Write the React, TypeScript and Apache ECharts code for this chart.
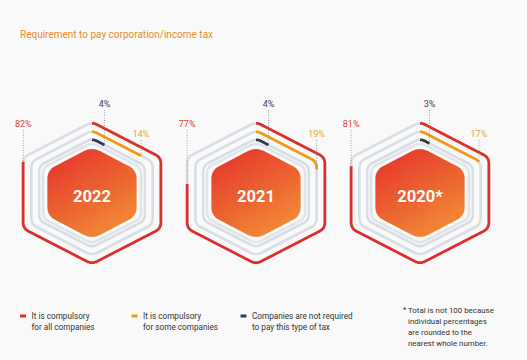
import React, { useEffect, useRef } from "react";
import * as echarts from "echarts";

const TITLE = "Requirement to pay corporation/income tax";
const YEARS = ["2022", "2021", "2020*"];
const ALL_COMPANIES = [82, 77, 81];
const SOME_COMPANIES = [14, 19, 17];
const NOT_REQUIRED = [4, 4, 3];
const SERIES_NAMES = [
  "It is compulsory\nfor all companies",
  "It is compulsory\nfor some companies",
  "Companies are not required\nto pay this type of tax",
];
const FOOTNOTE = ["Total is not 100 because", "individual percentages", "are rounded to the", "nearest whole number."];

// styles / geometry
const COLORS = ["#d8312b", "#f09a1c", "#2f3b4b"];
const LABEL_COLORS = ["#d9413a", "#f0a236", "#3b4350"];
const TRACK = "#d9dee4";
const RING_R = [71, 62.5, 54.5];
const LABEL_DY = [-69, -59, -89];
const INNER_R = 50.5;
const FILL_R = 46;
const K = 0.97;
const FONT = "Roboto, 'Noto Sans', sans-serif";

type P = [number, number];

function hexVerts(cx: number, cy: number, r: number): P[] {
  const rx = r * K;
  return [
    [cx, cy - r],
    [cx + rx, cy - r / 2],
    [cx + rx, cy + r / 2],
    [cx, cy + r],
    [cx - rx, cy + r / 2],
    [cx - rx, cy - r / 2],
  ];
}

function roundedLoop(verts: P[], c: number, steps = 8): P[] {
  const n = verts.length;
  const corner = (i: number): P[] => {
    const V = verts[i];
    const Pv = verts[(i - 1 + n) % n];
    const N = verts[(i + 1) % n];
    const d1 = Math.hypot(Pv[0] - V[0], Pv[1] - V[1]);
    const d2 = Math.hypot(N[0] - V[0], N[1] - V[1]);
    const A: P = [V[0] + ((Pv[0] - V[0]) * c) / d1, V[1] + ((Pv[1] - V[1]) * c) / d1];
    const B: P = [V[0] + ((N[0] - V[0]) * c) / d2, V[1] + ((N[1] - V[1]) * c) / d2];
    const pts: P[] = [];
    for (let s = 0; s <= steps; s++) {
      const t = s / steps;
      const a = (1 - t) * (1 - t), b = 2 * (1 - t) * t, d = t * t;
      pts.push([a * A[0] + b * V[0] + d * B[0], a * A[1] + b * V[1] + d * B[1]]);
    }
    return pts;
  };
  const out: P[] = [];
  const c0 = corner(0);
  out.push(...c0.slice(steps / 2));
  for (let i = 1; i < n; i++) out.push(...corner(i));
  out.push(...c0.slice(0, steps / 2 + 1));
  return out;
}

function slicePath(pts: P[], f0: number, f1: number): P[] {
  const cum = [0];
  for (let i = 1; i < pts.length; i++) {
    cum.push(cum[i - 1] + Math.hypot(pts[i][0] - pts[i - 1][0], pts[i][1] - pts[i - 1][1]));
  }
  const L = cum[cum.length - 1];
  const a = f0 * L, b = f1 * L;
  const at = (d: number): P => {
    for (let i = 1; i < pts.length; i++) {
      if (cum[i] >= d) {
        const seg = cum[i] - cum[i - 1] || 1;
        const t = (d - cum[i - 1]) / seg;
        return [pts[i - 1][0] + (pts[i][0] - pts[i - 1][0]) * t, pts[i - 1][1] + (pts[i][1] - pts[i - 1][1]) * t];
      }
    }
    return pts[pts.length - 1];
  };
  const out: P[] = [at(a)];
  for (let i = 0; i < pts.length; i++) if (cum[i] > a && cum[i] < b) out.push(pts[i]);
  out.push(at(b));
  return out;
}

const VALUES = [ALL_COMPANIES, SOME_COMPANIES, NOT_REQUIRED];

export default function App() {
  const ref = useRef<HTMLDivElement>(null);
  useEffect(() => {
    document.body.style.margin = "0";
    document.body.style.background = "#f9f9f9";
    const chart = echarts.init(ref.current!, null, { renderer: "svg" });

    const ringSeries = VALUES.map((vals, k) => ({
      type: "custom",
      name: SERIES_NAMES[k],
      data: vals.map((v, i) => [i, v]),
      renderItem: (params: any, api: any) => {
        const yi = api.value(0);
        const v = api.value(1);
        const [cx, cy] = api.coord([yi, 0]);
        const loop = roundedLoop(hexVerts(cx, cy, RING_R[k]), 6);
        const f = v / 100;
        const colored = slicePath(loop, 0, f);
        const track = slicePath(loop, f, 1);
        const end = colored[colored.length - 1];
        const ly = cy + LABEL_DY[k];
        return {
          type: "group",
          children: [
            { type: "polyline", shape: { points: track }, style: { stroke: TRACK, lineWidth: 2.6, fill: null, lineJoin: "round" } },
            { type: "polyline", shape: { points: colored }, style: { stroke: COLORS[k], lineWidth: 2.8, fill: null, lineJoin: "round" } },
            {
              type: "line",
              shape: { x1: end[0], y1: ly + 6, x2: end[0], y2: end[1] },
              style: { stroke: "#8a8f96", lineWidth: 0.8, lineDash: [1, 1.5] },
            },
            {
              type: "text",
              x: end[0],
              y: ly,
              style: { text: v + "%", fill: LABEL_COLORS[k], fontSize: 9, fontFamily: FONT, align: "center", verticalAlign: "middle" },
            },
          ],
        };
      },
    }));

    const centerSeries = {
      type: "custom",
      name: "year",
      data: YEARS.map((y, i) => ({ value: [i, 0], name: y })),
      renderItem: (params: any, api: any) => {
        const [cx, cy] = api.coord([api.value(0), 0]);
        const inner = roundedLoop(hexVerts(cx, cy, INNER_R), 6);
        const fill = roundedLoop(hexVerts(cx, cy, FILL_R), 9);
        return {
          type: "group",
          children: [
            { type: "polyline", shape: { points: inner }, style: { stroke: "#e0e4e8", lineWidth: 2.5, fill: null } },
            {
              type: "polygon",
              shape: { points: fill },
              style: {
                fill: {
                  type: "linear", x: 0.2, y: 0, x2: 0.8, y2: 1,
                  colorStops: [
                    { offset: 0, color: "#e5362b" },
                    { offset: 1, color: "#f38f35" },
                  ],
                },
              },
            },
            {
              type: "text",
              x: cx,
              y: cy + 3,
              style: {
                text: YEARS[params.dataIndex],
                fill: "#ffffff",
                fontSize: 16.5,
                fontWeight: "bold",
                fontFamily: FONT,
                align: "center",
                verticalAlign: "middle",
              },
            },
          ],
        };
      },
    };

    const legendX = [20, 131.5, 240.5];
    const legendGraphics: any[] = [];
    SERIES_NAMES.forEach((name, k) => {
      legendGraphics.push({ type: "rect", left: legendX[k], top: 314.5, shape: { width: 6, height: 3 }, style: { fill: COLORS[k] } });
      legendGraphics.push({
        type: "text",
        left: legendX[k] + 11.5,
        top: 310.5,
        style: { text: name, fill: "#333333", fontSize: 8.2, lineHeight: 11, fontFamily: FONT },
      });
    });
    legendGraphics.push({ type: "text", left: 403, top: 305.5, style: { text: "*", fill: "#333333", fontSize: 8, fontFamily: FONT } });
    legendGraphics.push({
      type: "text",
      left: 408,
      top: 305.2,
      style: { text: FOOTNOTE.join("\n"), fill: "#333333", fontSize: 7.9, lineHeight: 11, fontFamily: FONT },
    });

    chart.setOption({
      animation: false,
      backgroundColor: "#f9f9f9",
      title: {
        text: TITLE,
        left: 20,
        top: 29,
        padding: 0,
        textStyle: { fontSize: 10, fontWeight: "normal", color: "#e98c1f", fontFamily: FONT },
      },
      grid: { left: 10, width: 492, top: 93, height: 200 },
      xAxis: { type: "category", data: YEARS, show: false },
      yAxis: { type: "value", min: -100, max: 100, show: false },
      series: [centerSeries, ...ringSeries],
      graphic: legendGraphics,
    });
    return () => chart.dispose();
  }, []);
  return <div ref={ref} style={{ position: "fixed", left: 0, top: 0, width: 527, height: 360, background: "#f9f9f9" }} />;
}
